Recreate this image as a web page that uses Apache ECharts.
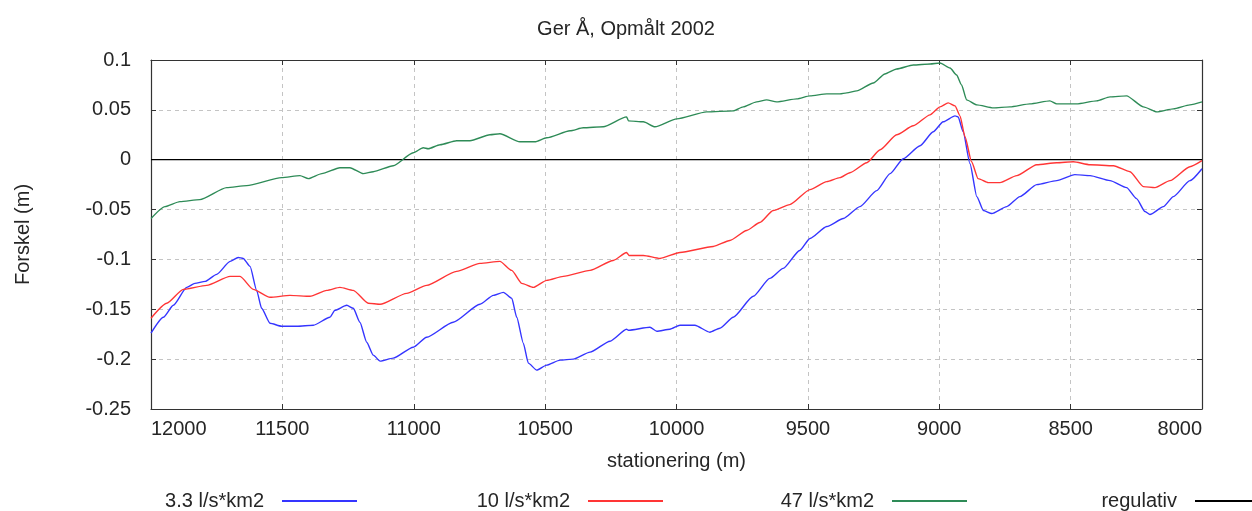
<!DOCTYPE html>
<html>
<head>
<meta charset="utf-8">
<script src="https://cdn.jsdelivr.net/npm/echarts@6/dist/echarts.min.js"></script>
<style>html,body{margin:0;padding:0;background:#fff}#c{width:1252px;height:511px}</style>
</head>
<body>
<div id="c"></div>
<script>
const titleText = 'Ger Å, Opmålt 2002';
const seriesNames = ['3.3 l/s*km2', '10 l/s*km2', '47 l/s*km2', 'regulativ'];

const blueX = [12000,11953,11915,11864,11833,11794,11750,11699,11668,11649,11623,11598,11579,11547,11503,11445,11382,11319,11300,11255,11230,11205,11179,11154,11128,11078,11002,10951,10850,10748,10697,10659,10627,10608,10583,10564,10532,10494,10443,10393,10329,10253,10190,10183,10101,10075,10025,9987,9930,9873,9835,9784,9708,9645,9594,9531,9492,9428,9365,9302,9238,9187,9137,9073,9023,8985,8940,8928,8909,8883,8857,8832,8800,8743,8693,8629,8553,8484,8426,8350,8287,8249,8217,8198,8147,8109,8046,8000];
const blueY = [-0.174,-0.158,-0.146,-0.128,-0.124,-0.122,-0.115,-0.102,-0.098,-0.099,-0.107,-0.131,-0.149,-0.164,-0.167,-0.167,-0.166,-0.158,-0.151,-0.146,-0.149,-0.163,-0.183,-0.196,-0.202,-0.199,-0.188,-0.178,-0.163,-0.145,-0.136,-0.133,-0.139,-0.158,-0.184,-0.204,-0.211,-0.206,-0.201,-0.200,-0.193,-0.182,-0.170,-0.171,-0.168,-0.172,-0.170,-0.166,-0.166,-0.173,-0.169,-0.158,-0.137,-0.119,-0.109,-0.091,-0.079,-0.067,-0.059,-0.047,-0.031,-0.014,0.001,0.014,0.028,0.038,0.044,0.043,0.028,-0.004,-0.037,-0.051,-0.054,-0.047,-0.037,-0.025,-0.021,-0.015,-0.016,-0.021,-0.028,-0.039,-0.052,-0.055,-0.047,-0.037,-0.021,-0.009];

const redX = [12000,11940,11877,11788,11699,11661,11611,11547,11471,11395,11331,11281,11230,11173,11128,11027,10951,10837,10748,10672,10627,10589,10545,10494,10431,10329,10241,10190,10181,10126,10063,9987,9860,9797,9733,9683,9632,9569,9492,9428,9378,9340,9276,9225,9162,9099,9035,8997,8966,8940,8921,8902,8877,8852,8813,8769,8705,8629,8553,8490,8426,8337,8274,8223,8179,8122,8046,8000];
const redY = [-0.159,-0.144,-0.130,-0.126,-0.117,-0.117,-0.130,-0.138,-0.136,-0.137,-0.131,-0.128,-0.131,-0.144,-0.145,-0.134,-0.126,-0.112,-0.104,-0.102,-0.111,-0.124,-0.128,-0.121,-0.117,-0.111,-0.101,-0.093,-0.096,-0.096,-0.099,-0.093,-0.087,-0.081,-0.071,-0.063,-0.051,-0.045,-0.030,-0.022,-0.018,-0.013,-0.003,0.010,0.025,0.034,0.045,0.053,0.057,0.054,0.044,0.023,-0.002,-0.019,-0.023,-0.023,-0.016,-0.005,-0.003,-0.002,-0.005,-0.006,-0.012,-0.027,-0.028,-0.021,-0.007,-0.001];

const greenX = [12000,11947,11890,11814,11712,11636,11503,11433,11401,11350,11281,11243,11192,11154,11078,11002,10964,10945,10900,10837,10786,10710,10672,10596,10539,10494,10405,10355,10279,10190,10183,10126,10082,9999,9885,9784,9746,9695,9657,9619,9542,9492,9428,9378,9352,9314,9251,9207,9162,9099,9035,8997,8959,8934,8915,8896,8857,8794,8731,8655,8579,8553,8477,8401,8350,8287,8223,8172,8109,8046,8000];
const greenY = [-0.059,-0.047,-0.042,-0.040,-0.028,-0.026,-0.018,-0.016,-0.019,-0.014,-0.008,-0.008,-0.014,-0.012,-0.006,0.007,0.012,0.011,0.015,0.019,0.019,0.025,0.026,0.018,0.018,0.022,0.029,0.032,0.033,0.043,0.039,0.038,0.033,0.041,0.048,0.049,0.053,0.058,0.060,0.058,0.061,0.064,0.066,0.066,0.067,0.069,0.077,0.086,0.091,0.095,0.096,0.097,0.092,0.085,0.075,0.060,0.055,0.052,0.053,0.056,0.059,0.056,0.056,0.059,0.063,0.064,0.053,0.048,0.051,0.055,0.058];

const regX = [12000, 8000];
const regY = [0, 0];

const colors = ['#3535ff', '#ff3535', '#2e8b57', '#000000'];

function pairs(xs, ys) { return xs.map((x, i) => [x, ys[i]]); }

const FONT = 'Liberation Sans, Arial, sans-serif';
const TXT = '#262626';
const FS = 20;

const chart = echarts.init(document.getElementById('c'), null, {renderer: 'canvas'});

function legendFor(i, right) {
  return {
    data: [seriesNames[i]],
    right: right,
    top: 486,
    align: 'right',
    icon: 'rect',
    itemWidth: 75,
    itemHeight: 2,
    textStyle: {fontFamily: FONT, fontSize: FS, color: TXT, padding: [0, 13, 0, 0]},
    selectedMode: false
  };
}

function lineSeries(i, xs, ys, z) {
  return {name: seriesNames[i], type: 'line', data: pairs(xs, ys), symbol: 'none',
    smooth: 0.2, smoothMonotone: 'x',
    lineStyle: {color: colors[i], width: 1.4}, itemStyle: {color: colors[i]}, z: z};
}

const option = {
  animation: false,
  backgroundColor: '#ffffff',
  title: {
    text: titleText,
    left: 'center',
    top: 14,
    textStyle: {fontFamily: FONT, fontSize: FS, fontWeight: 'normal', color: TXT}
  },
  legend: [legendFor(0, 890), legendFor(1, 584), legendFor(2, 280), legendFor(3, -23)],
  grid: {left: 151, right: 50, top: 60, bottom: 102, show: false},
  xAxis: [{
    type: 'value', position: 'bottom', inverse: true,
    min: 8000, max: 12000, interval: 500,
    name: 'stationering (m)', nameLocation: 'middle', nameGap: 42,
    nameTextStyle: {fontFamily: FONT, fontSize: FS, color: TXT},
    axisLine: {show: true, onZero: false, lineStyle: {color: '#333', width: 1.2}},
    axisTick: {show: true, inside: true, length: 5, lineStyle: {color: '#333'}},
    axisLabel: {fontFamily: FONT, fontSize: FS, color: TXT, margin: 10,
      alignMinLabel: 'right', alignMaxLabel: 'left', formatter: v => String(Math.round(v))},
    splitLine: {show: true, lineStyle: {color: '#c4c4c4', type: [4, 4], width: 1}}
  }, {
    type: 'value', position: 'top', inverse: true,
    min: 8000, max: 12000, interval: 500,
    axisLine: {show: true, onZero: false, lineStyle: {color: '#333', width: 1.2}},
    axisTick: {show: true, inside: true, length: 5, lineStyle: {color: '#333'}},
    axisLabel: {show: false},
    splitLine: {show: false}
  }],
  yAxis: [{
    type: 'value', position: 'left',
    min: -0.25, max: 0.1, interval: 0.05,
    name: 'Forskel (m)', nameLocation: 'middle', nameGap: 118,
    nameTextStyle: {fontFamily: FONT, fontSize: FS, color: TXT},
    axisLine: {show: true, onZero: false, lineStyle: {color: '#333', width: 1.2}},
    axisTick: {show: true, inside: true, length: 5, lineStyle: {color: '#333'}},
    axisLabel: {fontFamily: FONT, fontSize: FS, color: TXT, margin: 20,
      formatter: v => String(Math.round(v * 1000) / 1000)},
    splitLine: {show: true, lineStyle: {color: '#c4c4c4', type: [4, 4], width: 1}}
  }, {
    type: 'value', position: 'right',
    min: -0.25, max: 0.1, interval: 0.05,
    axisLine: {show: true, onZero: false, lineStyle: {color: '#333', width: 1.2}},
    axisTick: {show: true, inside: true, length: 5, lineStyle: {color: '#333'}},
    axisLabel: {show: false},
    splitLine: {show: false}
  }],
  series: [
    {name: seriesNames[3], type: 'line', data: pairs(regX, regY), symbol: 'none', lineStyle: {color: colors[3], width: 1.3}, itemStyle: {color: colors[3]}, z: 1},
    lineSeries(0, blueX, blueY, 2),
    lineSeries(1, redX, redY, 3),
    lineSeries(2, greenX, greenY, 4)
  ]
};
chart.setOption(option);
</script>
</body>
</html>
